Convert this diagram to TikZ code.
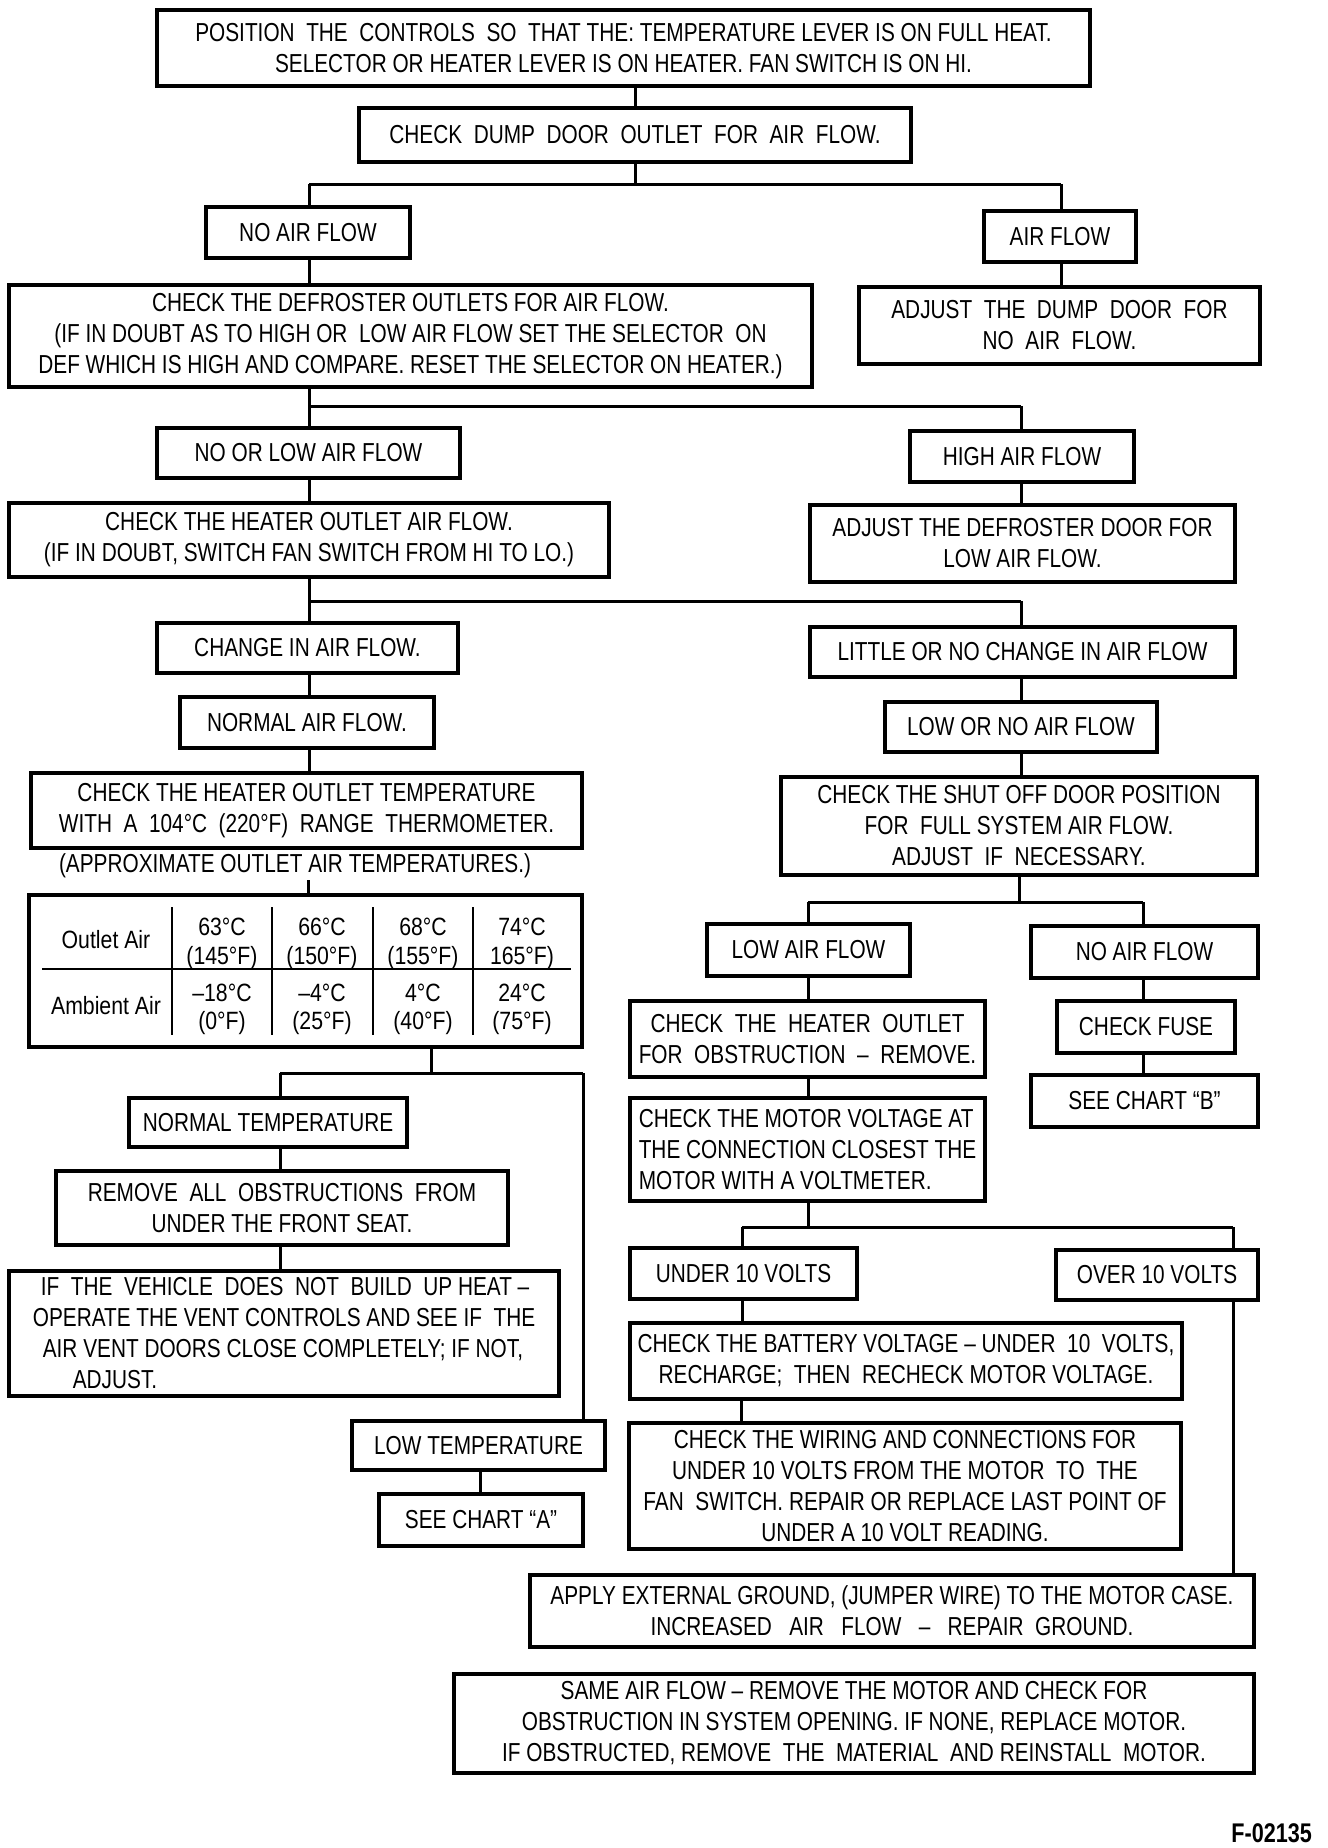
\documentclass[tikz,border=0pt]{standalone}
\usepackage{fontspec}
\setmainfont{Liberation Sans}[FakeStretch=0.8]
\newfontfamily\tabfont{Liberation Sans}[FakeStretch=0.85]
\newcommand{\boxfont}{\fontsize{26}{31}\selectfont}
\begin{document}
\begin{tikzpicture}[x=1pt,y=-1pt,
  box/.style={draw,line width=4pt,inner sep=0pt,align=center,font=\boxfont},
  conn/.style={line width=3pt},
  plain/.style={inner sep=0pt,font=\boxfont},
  tabtext/.style={inner sep=0pt,font={\tabfont\fontsize{25}{30}\selectfont}}]
\useasboundingbox[fill=white] (0,0) rectangle (1328,1848);

% ---------- boxes ----------
\node[box,minimum width=933,minimum height=76] (n1) at (623.5,48)
 {POSITION\ \ THE\ \ CONTROLS\ \ SO\ \ THAT THE: TEMPERATURE LEVER IS ON FULL HEAT.\\SELECTOR OR HEATER LEVER IS ON HEATER. FAN SWITCH IS ON HI.};
\node[box,minimum width=552,minimum height=54] (n2) at (635,135)
 {CHECK\ \ DUMP\ \ DOOR\ \ OUTLET\ \ FOR\ \ AIR\ \ FLOW.};
\node[box,minimum width=204,minimum height=51] (n3) at (308,232.5) {NO AIR FLOW};
\node[box,minimum width=152,minimum height=51] (n4) at (1060,236.5) {AIR FLOW};
\node[box,minimum width=803,minimum height=102] (n5) at (410.5,336)
 {CHECK THE DEFROSTER OUTLETS FOR AIR FLOW.\\(IF IN DOUBT AS TO HIGH OR\ \ LOW AIR FLOW SET THE SELECTOR\ \ ON\\DEF WHICH IS HIGH AND COMPARE. RESET THE SELECTOR ON HEATER.)};
\node[box,minimum width=401,minimum height=77] (n6) at (1059.5,325.5)
 {ADJUST\ \ THE\ \ DUMP\ \ DOOR\ \ FOR\\NO\ \ AIR\ \ FLOW.};
\node[box,minimum width=303,minimum height=50] (n7) at (308.5,453) {NO OR LOW AIR FLOW};
\node[box,minimum width=224,minimum height=51] (n8) at (1022,456.5) {HIGH AIR FLOW};
\node[box,minimum width=600,minimum height=74] (n9) at (309,540)
 {CHECK THE HEATER OUTLET AIR FLOW.\\(IF IN DOUBT, SWITCH FAN SWITCH FROM HI TO LO.)};
\node[box,minimum width=425,minimum height=77] (n10) at (1022.5,543.5)
 {ADJUST THE DEFROSTER DOOR FOR\\LOW AIR FLOW.};
\node[box,minimum width=301,minimum height=50] (n11) at (307.5,648) {CHANGE IN AIR FLOW.};
\node[box,minimum width=425,minimum height=50] (n12) at (1022.5,652) {LITTLE OR NO CHANGE IN AIR FLOW};
\node[box,minimum width=254,minimum height=51] (n13) at (307,722.5) {NORMAL AIR FLOW.};
\node[box,minimum width=272,minimum height=50] (n14) at (1021,727) {LOW OR NO AIR FLOW};
\node[box,minimum width=551,minimum height=75] (n15) at (306.5,810.5)
 {CHECK THE HEATER OUTLET TEMPERATURE\\WITH\ \ A\ \ 104°C\ \ (220°F)\ \ RANGE\ \ THERMOMETER.};
\node[box,minimum width=476,minimum height=98] (n16) at (1019,826)
 {CHECK THE SHUT OFF DOOR POSITION\\FOR\ \ FULL SYSTEM AIR FLOW.\\ADJUST\ \ IF\ \ NECESSARY.};
\node[plain] (approx) at (295,866) {(APPROXIMATE OUTLET AIR TEMPERATURES.)};

% table
\node[draw,line width=4pt,inner sep=0pt,minimum width=553,minimum height=152] (tab) at (305.5,971) {};
\coordinate (tc) at (308,880);
\node[tabtext] (ta1) at (106,940) {Outlet Air};
\node[tabtext] (ta2) at (106,1006) {Ambient Air};
\node[tabtext] (c11) at (222,927) {63°C};
\node[tabtext] (c12) at (222,958) {(145°F)};
\node[tabtext] (c21) at (322,927) {66°C};
\node[tabtext] (c22) at (322,958) {(150°F)};
\node[tabtext] (c31) at (423,927) {68°C};
\node[tabtext] (c32) at (423,958) {(155°F)};
\node[tabtext] (c41) at (522,927) {74°C};
\node[tabtext] (c42) at (522,958) {165°F)};
\node[tabtext] (d11) at (222,993) {–18°C};
\node[tabtext] (d12) at (222,1023) {(0°F)};
\node[tabtext] (d21) at (322,993) {–4°C};
\node[tabtext] (d22) at (322,1023) {(25°F)};
\node[tabtext] (d31) at (423,993) {4°C};
\node[tabtext] (d32) at (423,1023) {(40°F)};
\node[tabtext] (d41) at (522,993) {24°C};
\node[tabtext] (d42) at (522,1023) {(75°F)};
\draw[line width=2.5pt] (42,969) -- (571,969);
\foreach \xx in {172,272,373,473} \draw[line width=2.5pt] (\xx,907) -- (\xx,1035);

% right middle
\node[box,minimum width=203,minimum height=52] (n19) at (808.5,950) {LOW AIR FLOW};
\node[box,minimum width=227,minimum height=52] (n20) at (1144.5,952) {NO AIR FLOW};
\node[box,minimum width=355,minimum height=76] (n21) at (807.5,1039)
 {CHECK\ \ THE\ \ HEATER\ \ OUTLET\\FOR\ \ OBSTRUCTION\ \ –\ \ REMOVE.};
\node[box,minimum width=178,minimum height=52] (n22) at (1146,1027) {CHECK FUSE};
\node[box,minimum width=227,minimum height=52] (n23) at (1144.5,1101) {SEE CHART ``B''};
\node[box,minimum width=355,minimum height=103,align=left] (n24) at (807.5,1149.5)
 {CHECK THE MOTOR VOLTAGE AT\\THE CONNECTION CLOSEST THE\\MOTOR WITH A VOLTMETER.};
\node[box,minimum width=227,minimum height=51] (n25) at (743.5,1273.5) {UNDER 10 VOLTS};
\node[box,minimum width=202,minimum height=50] (n26) at (1157,1275) {OVER 10 VOLTS};
\node[box,minimum width=552,minimum height=76] (n27) at (906,1361)
 {CHECK THE BATTERY VOLTAGE – UNDER\ \ 10\ \ VOLTS,\\RECHARGE;\ \ THEN\ \ RECHECK MOTOR VOLTAGE.};
\node[box,minimum width=552,minimum height=126] (n28) at (905,1486)
 {CHECK THE WIRING AND CONNECTIONS FOR\\UNDER 10 VOLTS FROM THE MOTOR\ \ TO\ \ THE\\FAN\ \ SWITCH. REPAIR OR REPLACE LAST POINT OF\\UNDER A 10 VOLT READING.};
\node[box,minimum width=724,minimum height=72] (n29) at (892,1611)
 {APPLY EXTERNAL GROUND, (JUMPER WIRE) TO THE MOTOR CASE.\\INCREASED\ \ \ AIR\ \ \ FLOW\ \ \ –\ \ \ REPAIR\ \ GROUND.};
\node[box,minimum width=800,minimum height=99] (n30) at (854,1723.5)
 {SAME AIR FLOW – REMOVE THE MOTOR AND CHECK FOR\\OBSTRUCTION IN SYSTEM OPENING. IF NONE, REPLACE MOTOR.\\IF OBSTRUCTED, REMOVE\ \ THE\ \ MATERIAL\ \ AND REINSTALL\ \ MOTOR.};

% left lower
\node[box,minimum width=278,minimum height=49] (n31) at (268,1122.5) {NORMAL TEMPERATURE};
\node[box,minimum width=452,minimum height=74] (n32) at (282,1208)
 {REMOVE\ \ ALL\ \ OBSTRUCTIONS\ \ FROM\\UNDER THE FRONT SEAT.};
\node[box,minimum width=550,minimum height=125,align=left] (n33) at (284,1333.5)
 {\hspace*{8pt}IF\ \ THE\ \ VEHICLE\ \ DOES\ \ NOT\ \ BUILD\ \ UP HEAT –\\OPERATE THE VENT CONTROLS AND SEE IF\ \ THE\\\hspace*{10pt}AIR VENT DOORS CLOSE COMPLETELY; IF NOT,\\\hspace*{40pt}ADJUST.};
\node[box,minimum width=253,minimum height=49] (n34) at (478.5,1445.5) {LOW TEMPERATURE};
\node[box,minimum width=204,minimum height=52] (n35) at (481,1520) {SEE CHART ``A''};

\node[inner sep=0pt,anchor=south east,font={\fontsize{27}{30}\selectfont\bfseries}] (fig) at (1312,1843) {F-02135};

% ---------- junction coordinates ----------
\coordinate (j1L) at (309,184);  \coordinate (j1R) at (1061,184);
\coordinate (j2L) at (309,406);  \coordinate (j2R) at (1021,406);
\coordinate (j3L) at (309,601);  \coordinate (j3R) at (1021,601);
\coordinate (j4L) at (808,902);  \coordinate (j4R) at (1143,902);
\coordinate (j5L) at (742,1227); \coordinate (j5R) at (1233,1227);
\coordinate (j6L) at (280,1073); \coordinate (j6R) at (583,1073);

% ---------- connectors ----------
\begin{scope}[conn]
\draw (n2.north |- n1.south) -- (n2.north);
\draw (n2.south) -- (n2.south |- j1L);
\draw (j1L) -- (j1R);
\draw (j1L) -- (j1L |- n3.north);
\draw (j1R) -- (j1R |- n4.north);
\draw (n3.south -| j1L) -- (j1L |- n5.north);
\draw (n4.south -| j1R) -- (j1R |- n6.north);

\draw (n5.south -| j2L) -- (j2L);
\draw (j2L) -- (j2R);
\draw (j2L) -- (j2L |- n7.north);
\draw (j2R) -- (j2R |- n8.north);
\draw (n7.south -| j2L) -- (j2L |- n9.north);
\draw (n8.south -| j2R) -- (j2R |- n10.north);

\draw (n9.south -| j3L) -- (j3L);
\draw (j3L) -- (j3R);
\draw (j3L) -- (j3L |- n11.north);
\draw (j3R) -- (j3R |- n12.north);
\draw (n11.south -| j3L) -- (j3L |- n13.north);
\draw (n13.south -| j3L) -- (j3L |- n15.north);
\draw (n12.south -| j3R) -- (j3R |- n14.north);
\draw (n14.south -| j3R) -- (j3R |- n16.north);

\draw (tc) -- (tc |- tab.north);

\draw (n16.south -| 1019,0) -- (1019,902);
\draw (j4L) -- (j4R);
\draw (j4L) -- (j4L |- n19.north);
\draw (j4R) -- (j4R |- n20.north);
\draw (n19.south -| j4L) -- (j4L |- n21.north);
\draw (n21.south -| j4L) -- (j4L |- n24.north);
\draw (n20.south -| j4R) -- (j4R |- n22.north);
\draw (n22.south -| j4R) -- (j4R |- n23.north);

\draw (n24.south -| j4L) -- (j4L |- j5L);
\draw (j5L) -- (j5R);
\draw (j5L) -- (j5L |- n25.north);
\draw (j5R) -- (j5R |- n26.north);
\draw (n25.south -| j5L) -- (j5L |- n27.north);
\draw (n27.south -| 741,0) -- (741,0 |- n28.north);
\draw (n26.south -| j5R) -- (j5R |- n29.north);

\draw (tab.south -| 431,0) -- (431,1073);
\draw (j6L) -- (j6R);
\draw (j6L) -- (j6L |- n31.north);
\draw (n31.south -| j6L) -- (j6L |- n32.north);
\draw (n32.south -| j6L) -- (j6L |- n33.north);
\draw (j6R) -- (j6R |- n34.north);
\draw (n34.south -| 480,0) -- (480,0 |- n35.north);
\end{scope}
\end{tikzpicture}
\end{document}
